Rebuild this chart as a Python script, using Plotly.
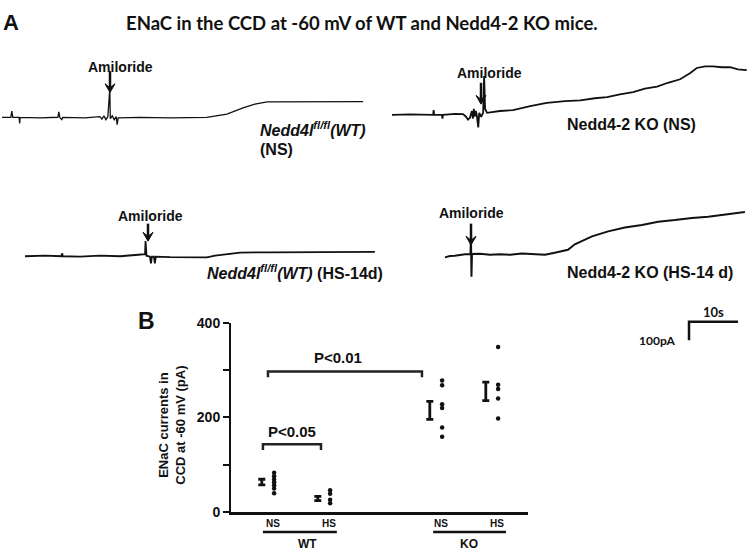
import plotly.graph_objects as go

W, H = 750, 559

# ---------------- Panel B data (pA) ----------------
GROUPS = ["NS", "HS", "NS", "HS"]
GROUP_X = [1, 2, 4, 5]
WT_NS = [83, 76, 69, 63, 57, 50, 40]
WT_HS = [46, 39, 26, 19]
KO_NS = [278, 268, 228, 220, 179, 159]
KO_HS = [349, 269, 260, 240, 198]
MEANS = [63.5, 29, 215, 255]
SEMS = [6, 4.5, 19, 19.5]
Y_TICKS = [0, 200, 400]
Y_MINOR_TICKS = [100, 300]

# ---------------- Panel A traces: time (s) vs current (pA, 0 = post-amiloride level) ----------------
T1 = [0, 1.8, 2.0, 2.2, 3.5, 3.6, 3.7, 7.8, 11.4, 11.6, 11.8, 12.2, 12.4, 16.9, 20.0, 20.4, 20.8, 21.2, 21.6,
      22.0, 22.1, 22.5, 22.9, 23.3, 23.5, 23.7, 28.2, 34.3, 41.8, 45.9, 49.2, 51.6, 54.1, 60.8, 66.9, 73.7]
I1 = [-84, -84, -49, -84, -84, -117, -84, -86, -83, -54, -84, -96, -84, -86, -80, -93, -75, -96, -80,
      72, -91, -75, -96, -80, -123, -86, -84, -86, -84, -66, -32, -12, 0, 1, -1, 2]

T2 = [0, 3.7, 8.4, 8.5, 8.6, 10.2, 10.3, 10.4, 12.9, 14.5, 15.1, 15.5, 15.9, 16.3, 16.5, 16.7, 16.9, 17.1,
      17.3, 17.6, 17.8, 18.2, 18.6, 18.8, 19.0, 19.4, 22.0, 24.7, 28.2, 31.6, 35.3, 38.4, 41.4, 43.9, 46.5,
      49.2, 51.6, 54.1, 56.3, 58.8, 60.8, 62.2, 63.9, 65.5, 67.3, 69.0, 70.6, 72.4]
I2 = [-258, -255, -258, -232, -258, -258, -279, -258, -253, -254, -268, -284, -274, -237, -279, -226, -268, -237,
      -258, -326, -247, -268, -247, -47, -226, -247, -237, -232, -211, -193, -184, -179, -168, -162, -147,
      -135, -116, -105, -84, -65, -32, -4, 5, 5, 0, 0, -11, -16]

T3 = [0, 4.1, 7.4, 7.6, 7.7, 11.2, 15.3, 19.4, 23.1, 24.5, 24.6, 24.8, 25.5, 25.7, 25.9, 26.3, 26.5, 26.7,
      29.6, 33.7, 37.1, 38.8, 40.8, 43.9, 50.0, 56.1, 64.3, 71.4]
I3 = [-24, -21, -24, -8, -24, -26, -21, -24, -16, -13, 58, -21, -26, -62, -26, -26, -62, -26,
      -29, -29, -30, -21, -13, -4, -3, -2, 0, 0]

T4 = [0, 1.0, 2.0, 3.1, 4.1, 5.2, 5.3, 5.4, 5.5, 7.1, 9.2, 11.2, 13.3, 15.7, 18.4, 20.4, 22.4, 23.9, 25.1,
      26.5, 28.2, 30.0, 33.3, 36.7, 40.2, 43.5, 46.9, 50.4, 53.7, 57.1, 61.2]
I4 = [-246, -239, -237, -232, -229, -228, -132, -351, -228, -226, -232, -229, -232, -225, -228, -232, -221, -211, -205,
      -175, -153, -132, -105, -84, -70, -53, -44, -32, -26, -14, 0]

SCALE_T = 10     # s
SCALE_I = 100    # pA

# ---------------- layout helpers ----------------
PXS = 4.9    # px per second
PXA = 0.19   # px per pA


def px(x):
    return x / W


def py(y):
    return 1 - y / H


def trace_axes(x0, y0):
    """ranges so that t=0 lands at pixel x0 and I=0 at pixel y0"""
    return [-x0 / PXS, (W - x0) / PXS], [-(H - y0) / PXA, y0 / PXA]


panels = [
    (T1, I1, 2, 96.7, 1.3),
    (T2, I2, 392, 61, 1.8),
    (T3, I3, 25, 251, 1.8),
    (T4, I4, 445, 210, 2.0),
]

fig = go.Figure()
layout_axes = {}
for k, (t, cur, x0, y0, lw) in enumerate(panels):
    n = k + 2
    xr, yr = trace_axes(x0, y0)
    layout_axes[f"xaxis{n}"] = dict(domain=[0, 1], range=xr, visible=False, anchor=f"y{n}")
    layout_axes[f"yaxis{n}"] = dict(domain=[0, 1], range=yr, visible=False, anchor=f"x{n}")
    fig.add_trace(go.Scatter(x=t, y=cur, mode="lines", line=dict(color="#111", width=lw),
                             xaxis=f"x{n}", yaxis=f"y{n}", showlegend=False, hoverinfo="skip"))

# scale bar in panel-4 units
sc_t = (689 - 445) / PXS
sc_i = -(323 - 210) / PXA
fig.add_trace(go.Scatter(x=[sc_t, sc_t, sc_t + SCALE_T], y=[sc_i - SCALE_I, sc_i, sc_i], mode="lines",
                         line=dict(color="#111", width=2.5), xaxis="x5", yaxis="y5",
                         showlegend=False, hoverinfo="skip"))

# ---------------- Panel B ----------------
dot_off = 0.02
bar_off = -0.2
for gx, vals in zip(GROUP_X, [WT_NS, WT_HS, KO_NS, KO_HS]):
    fig.add_trace(go.Scatter(x=[gx + dot_off] * len(vals), y=vals, mode="markers",
                             marker=dict(color="#111", size=4.5), showlegend=False,
                             xaxis="x", yaxis="y", hoverinfo="skip"))
fig.add_trace(go.Scatter(x=[g + bar_off for g in GROUP_X], y=MEANS, mode="markers",
                         marker=dict(color="#111", size=1),
                         error_y=dict(type="data", array=SEMS, visible=True, color="#111",
                                      thickness=2.8, width=3.5),
                         showlegend=False, xaxis="x", yaxis="y", hoverinfo="skip"))

AX_FONT = "Liberation Sans, Arial, sans-serif"
CAL_FONT = "Lato, Carlito, Open Sans, sans-serif"

fig.update_layout(
    width=W, height=H,
    margin=dict(l=0, r=0, t=0, b=0),
    paper_bgcolor="white", plot_bgcolor="rgba(0,0,0,0)",
    showlegend=False,
    xaxis=dict(domain=[px(231), px(528)], range=[1 + (231 - 273) / 56, 1 + (528 - 273) / 56],
               tickvals=GROUP_X, ticktext=[f"<b>{g}</b>" for g in GROUPS], ticks="",
               tickfont=dict(family=AX_FONT, size=10, color="#111"),
               showline=True, linecolor="#111", linewidth=2.5, showgrid=False, zeroline=False,
               anchor="y"),
    yaxis=dict(domain=[py(519), py(324)], range=[0, 400], tickvals=Y_TICKS,
               ticktext=[f"<b>{t}</b>" for t in Y_TICKS],
               ticks="outside", ticklen=6, tickwidth=2, tickcolor="#111",
               minor=dict(tickvals=Y_MINOR_TICKS, ticks="outside", ticklen=6, tickwidth=2,
                          tickcolor="#111", showgrid=False),
               tickfont=dict(family=AX_FONT, size=14, color="#111"),
               showline=True, linecolor="#111", linewidth=2, showgrid=False, zeroline=False,
               anchor="x"),
    **layout_axes,
)

shapes = []
# significance brackets (data coords of panel B)
for x0b, x1b, ytop, ylow in [(0.82, 1.857, 143.6, 131), (0.91, 3.66, 297, 285)]:
    shapes.append(dict(type="path", xref="x", yref="y",
                       path=f"M {x0b},{ylow} L {x0b},{ytop} L {x1b},{ytop} L {x1b},{ylow}",
                       line=dict(color="#222", width=2.5)))
# group underlines
for x0g, x1g in [(0.82, 2.14), (3.86, 5.16)]:
    shapes.append(dict(type="line", xref="x", yref="paper", x0=x0g, x1=x1g, y0=py(539.5), y1=py(539.5),
                       line=dict(color="#111", width=2.5)))

ann = []


def txt(x, y, s, size, family=AX_FONT, xanchor="center", angle=0):
    ann.append(dict(x=px(x), y=py(y), xref="paper", yref="paper", text=s, showarrow=False,
                    xanchor=xanchor, yanchor="middle", textangle=angle,
                    font=dict(family=family, size=size, color="#111")))


# panel letters & title
txt(11, 15, "<b>A</b>", 22)
txt(146, 322, "<b>B</b>", 23)
txt(362, 15, "<b>ENaC in the CCD at -60 mV of WT and Nedd4-2 KO mice.</b>", 18.5, CAL_FONT)

# amiloride labels + arrows (drawn as shapes)
for (tx, ty, ax_, y_tail, y_tip) in [(120, 61, 110, 65, 87), (489, 67, 481, 77, 99),
                                     (150, 214, 148, 222, 240), (471, 211, 471, 222, 244)]:
    txt(tx, ty, "<b>Amiloride</b>", 14)
    shapes.append(dict(type="line", xref="paper", yref="paper", x0=px(ax_), x1=px(ax_),
                       y0=py(y_tail), y1=py(y_tip - 4), line=dict(color="#111", width=2.5)))
    head = (f"M {px(ax_ - 5)},{py(y_tip - 9)} L {px(ax_)},{py(y_tip)} L {px(ax_ + 5)},{py(y_tip - 9)} "
            f"L {px(ax_)},{py(y_tip - 5)} Z")
    shapes.append(dict(type="path", xref="paper", yref="paper", path=head,
                       fillcolor="#111", line=dict(color="#111", width=1)))

fig.update_layout(shapes=shapes)

# trace labels
txt(258, 125, "<b><i>Nedd4l<sup>fl/fl</sup>(WT)</i></b>", 16, xanchor="left")
txt(258, 146, "<b>(NS)</b>", 16, xanchor="left")
txt(565, 120, "<b>Nedd4-2 KO (NS)</b>", 16, xanchor="left")
txt(205, 272, "<b><i>Nedd4l<sup>fl/fl</sup>(WT)</i> (HS-14d)</b>", 16, xanchor="left")
txt(565, 272, "<b>Nedd4-2 KO (HS-14 d)</b>", 16, xanchor="left")

# scale bar labels
txt(713, 313, "<b>10s</b>", 13, CAL_FONT)
txt(657, 342, "<b>100pA</b>", 12, CAL_FONT)

# panel B texts
txt(338, 360, "<b>P<0.01</b>", 15)
txt(292, 436, "<b>P<0.05</b>", 15)
txt(172, 430, "<b>ENaC currents in<br>CCD at -60 mV (pA)</b>", 13, angle=-90)
txt(307, 552, "<b>WT</b>", 12)
txt(469, 552, "<b>KO</b>", 12)

fig.update_layout(annotations=ann)
fig.write_html("out.html", config={"displayModeBar": False},
               post_script="document.body.style.margin='0px';")
